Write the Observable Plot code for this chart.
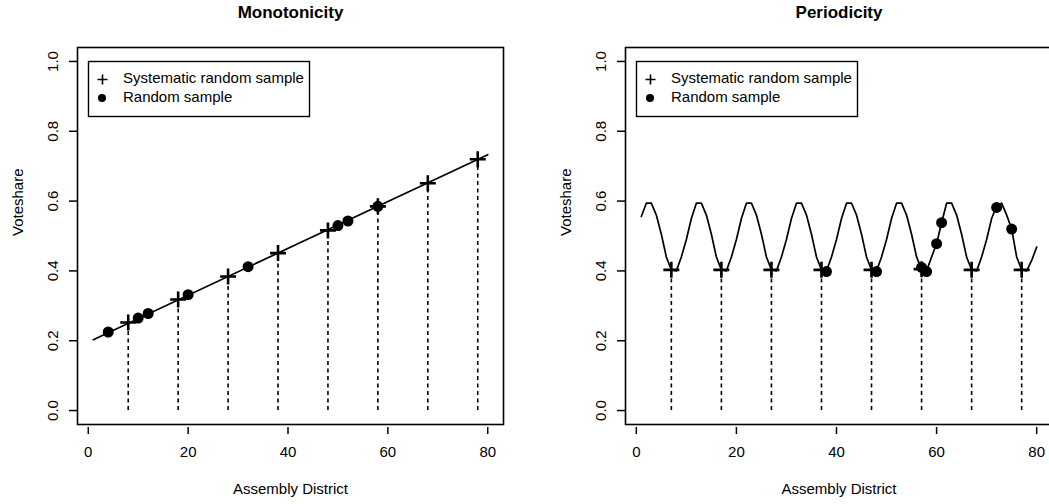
<!DOCTYPE html>
<html>
<head>
<meta charset="utf-8">
<script src="https://cdn.jsdelivr.net/npm/d3@7"></script>
<script src="https://cdn.jsdelivr.net/npm/@observablehq/plot@0.6"></script>
<style>
  html, body { margin: 0; padding: 0; background: white; overflow: hidden; }
  #wrap { position: relative; width: 1049px; height: 504px; overflow: hidden; background: white; }
  #left { position: absolute; left: 0; top: 0; width: 525px; }
  #right { position: absolute; left: 525px; top: 0; width: 530px; }
  #wrap svg { max-width: none !important; }
</style>
</head>
<body>
<div id="wrap"><div id="left"></div><div id="right"></div></div>
<script>
// ---- shared text / ticks ----
const panelTitles = ["Monotonicity", "Periodicity"];
const xLabel = "Assembly District";
const yLabel = "Voteshare";
const legendLabels = ["Systematic random sample", "Random sample"];
const xTicks = [0, 20, 40, 60, 80];
const yTicks = [0, 0.2, 0.4, 0.6, 0.8, 1.0];
const yTickLabels = ["0.0", "0.2", "0.4", "0.6", "0.8", "1.0"];

// ---- Monotonicity panel ----
const monoLineX = [1, 80];
const monoLineY = [0.203, 0.733];
const monoSysX = [8, 18, 28, 38, 48, 58, 68, 78];
const monoSysY = [0.252, 0.318, 0.384, 0.451, 0.516, 0.585, 0.651, 0.72];
const monoRandX = [4, 10, 12, 20, 32, 50, 52, 58];
const monoRandY = [0.225, 0.265, 0.278, 0.332, 0.412, 0.53, 0.543, 0.585];

// ---- Periodicity panel ----
const perLineX = [1,2,3,4,5,6,7,8,9,10,11,12,13,14,15,16,17,18,19,20,
  21,22,23,24,25,26,27,28,29,30,31,32,33,34,35,36,37,38,39,40,
  41,42,43,44,45,46,47,48,49,50,51,52,53,54,55,56,57,58,59,60,
  61,62,63,64,65,66,67,68,69,70,71,72,73,74,75,76,77,78,79,80];
const perLineY = [
  0.556,0.594,0.594,0.56,0.505,0.44,0.403,0.40,0.44,0.49,
  0.55,0.594,0.594,0.56,0.505,0.44,0.403,0.40,0.44,0.49,
  0.55,0.594,0.594,0.56,0.505,0.44,0.403,0.40,0.44,0.49,
  0.55,0.594,0.594,0.56,0.505,0.44,0.403,0.40,0.44,0.49,
  0.55,0.594,0.594,0.56,0.505,0.44,0.403,0.40,0.44,0.49,
  0.55,0.594,0.594,0.56,0.505,0.44,0.405,0.40,0.44,0.478,
  0.538,0.594,0.594,0.56,0.505,0.44,0.403,0.40,0.44,0.49,
  0.55,0.585,0.594,0.56,0.52,0.44,0.403,0.40,0.43,0.468];
const perSysX = [7, 17, 27, 37, 47, 57, 67, 77];
const perSysY = [0.403, 0.403, 0.403, 0.403, 0.403, 0.405, 0.403, 0.403];
const perRandX = [38, 48, 57, 58, 60, 61, 72, 75];
const perRandY = [0.398, 0.398, 0.41, 0.398, 0.478, 0.538, 0.582, 0.52];

// plus symbol whose half-arm equals r
const plusSym = {
  draw(ctx, size) {
    const r = Math.sqrt(size / Math.PI);
    ctx.moveTo(-r, 0); ctx.lineTo(r, 0);
    ctx.moveTo(0, -r); ctx.lineTo(0, r);
  }
};

const FONT = "'Liberation Sans', Arial, Helvetica, sans-serif";
const zip = (xs, ys) => xs.map((x, i) => ({x, y: ys[i]}));

function panel({title, lineX, lineY, sysX, sysY, randX, randY, width, marginLeft, marginRight}) {
  const lineData = zip(lineX, lineY);
  const sys = zip(sysX, sysY);
  const rnd = zip(randX, randY);
  const frameW = width - marginLeft - marginRight;
  const frameH = 504 - 47 - 80;
  return Plot.plot({
    width, height: 504,
    marginLeft, marginRight, marginTop: 47, marginBottom: 80,
    x: {domain: [-2.16, 83.16], axis: null},
    y: {domain: [-0.04, 1.04], axis: null},
    style: {fontFamily: FONT, fontSize: "15px", color: "black", background: "white", overflow: "visible"},
    marks: [
      Plot.frame({stroke: "black", strokeWidth: 1.6}),
      Plot.axisX(xTicks, {anchor: "bottom", label: null, tickSize: 7, dy: 3, tickPadding: 12,
        tickFormat: d => String(d), fontSize: 15, strokeWidth: 1.5}),
      Plot.axisY(yTicks, {anchor: "left", label: null, tickSize: 8, tickPadding: 12, tickRotate: -90,
        tickFormat: d => yTickLabels[yTicks.indexOf(d)], fontSize: 15, strokeWidth: 1.5}),
      Plot.ruleX(sys, {x: "x", y1: 0, y2: "y", stroke: "black", strokeWidth: 1.6, strokeDasharray: "4,3.5"}),
      Plot.line(lineData, {x: "x", y: "y", stroke: "black", strokeWidth: 1.7}),
      Plot.dot(rnd, {x: "x", y: "y", r: 5.5, fill: "black", stroke: null}),
      Plot.dot(sys, {x: "x", y: "y", r: 8, symbol: plusSym, stroke: "black", strokeWidth: 2.6, fill: "none"}),
      // legend box
      Plot.frame({stroke: "black", strokeWidth: 1.4, insetLeft: 11, insetTop: 14,
        insetRight: frameW - 11 - 221, insetBottom: frameH - 14 - 55}),
      Plot.dot([0], {frameAnchor: "top-left", dx: 25, dy: 32, r: 5, symbol: plusSym, stroke: "black", strokeWidth: 1.6, fill: "none"}),
      Plot.dot([0], {frameAnchor: "top-left", dx: 24.5, dy: 50.5, r: 4, fill: "black", stroke: null}),
      Plot.text([legendLabels[0]], {text: d => d, frameAnchor: "top-left", dx: 45.5, dy: 35.5, lineAnchor: "bottom", textAnchor: "start", fontSize: 15}),
      Plot.text([legendLabels[1]], {text: d => d, frameAnchor: "top-left", dx: 45.5, dy: 54.5, lineAnchor: "bottom", textAnchor: "start", fontSize: 15}),
      // titles and axis labels
      Plot.text([title], {text: d => d, frameAnchor: "top", dy: -30, lineAnchor: "bottom", fontWeight: "bold", fontSize: 17}),
      Plot.text([xLabel], {text: d => d, frameAnchor: "bottom", dy: 69, lineAnchor: "bottom", fontSize: 15}),
      Plot.text([yLabel], {text: d => d, frameAnchor: "left", dx: -55, rotate: -90, lineAnchor: "bottom", fontSize: 15})
    ]
  });
}

document.getElementById("left").appendChild(panel({
  title: panelTitles[0], lineX: monoLineX, lineY: monoLineY,
  sysX: monoSysX, sysY: monoSysY, randX: monoRandX, randY: monoRandY,
  width: 525, marginLeft: 77, marginRight: 22
}));
document.getElementById("right").appendChild(panel({
  title: panelTitles[1], lineX: perLineX, lineY: perLineY,
  sysX: perSysX, sysY: perSysY, randX: perRandX, randY: perRandY,
  width: 530, marginLeft: 100, marginRight: 3
}));
</script>
</body>
</html>
